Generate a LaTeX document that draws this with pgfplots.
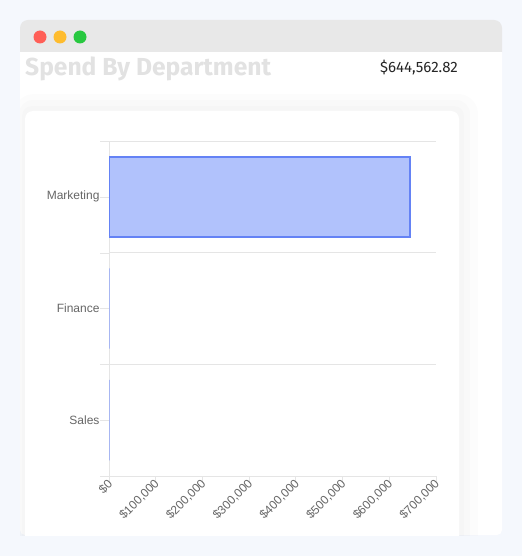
\documentclass[border=0pt]{standalone}
\usepackage{pgfplots}
\pgfplotsset{compat=1.18}
\usepackage{fontspec}
\setmainfont{Liberation Sans}
\newfontfamily\titlefont{Fira Sans}
\definecolor{pagebg}{HTML}{F5F8FD}
\definecolor{barbg}{HTML}{E8E8E8}
\definecolor{gridgray}{HTML}{E5E5E5}
\definecolor{labelgray}{HTML}{666666}
\definecolor{titlegray}{HTML}{E2E2E2}
\definecolor{barfill}{HTML}{B1C2FC}
\definecolor{barline}{HTML}{6482F5}
\definecolor{mred}{HTML}{FF5F57}
\definecolor{myellow}{HTML}{FEBC2E}
\definecolor{mgreen}{HTML}{28C840}

% departments: 0 = Sales, 1 = Finance, 2 = Marketing
\pgfplotstableread{
y value
2 644562.82
}\spendbig
\pgfplotstableread{
y value
0 0
1 0
}\spendzero

\begin{document}
\begin{tikzpicture}[x=1pt,y=1pt]
% page and window
\fill[pagebg] (0,0) rectangle (522,-556);
\fill[white, rounded corners=5pt] (20,-40) rectangle (502,-535);
\fill[barbg, rounded corners=8pt] (20,-20) rectangle (502,-60);
\fill[white] (20,-52) rectangle (502,-70);
\fill[mred] (40,-37) circle (6.5);
\fill[myellow] (60,-37) circle (6.5);
\fill[mgreen] (80,-37) circle (6.5);
% soft card shadow
\begin{scope}
\clip (20,-52) rectangle (502,-535);
\fill[black, opacity=0.012, rounded corners=20pt] (14,-94) rectangle (478,-560);
\fill[black, opacity=0.012, rounded corners=14pt] (19,-100) rectangle (470,-560);
\fill[black, opacity=0.012, rounded corners=10pt] (22,-106) rectangle (464,-560);
\fill[white, rounded corners=8pt] (25,-111) rectangle (459,-560);
\end{scope}
\node[anchor=base west, inner sep=0pt, text=titlegray, font=\titlefont\bfseries\fontsize{24.6}{28}\selectfont] at (25,-76) {Spend By Department};
\node[anchor=base east, inner sep=0pt, text=black!85, font=\titlefont\fontsize{15}{18}\selectfont] at (458,-73) {\$644,562.82};

\begin{axis}[
  at={(109pt,-476pt)}, anchor=south west,
  scale only axis, width=327pt, height=335pt,
  xbar, bar width=0.72, bar shift=0pt,
  xmin=0, xmax=700000, ymin=-0.5, ymax=2.5,
  axis lines=left, axis line style={-, draw=gridgray},
  tick align=outside,
  xtick={0,100000,...,700000},
  scaled x ticks=false,
  xticklabel={\$\pgfmathprintnumber{\tick}},
  /pgf/number format/.cd, fixed, 1000 sep={,}, assume math mode=true, /pgfplots/.cd,
  x tick label style={rotate=45, anchor=east, inner sep=1pt, xshift=1pt, yshift=-2pt, font=\fontsize{12}{14}\selectfont, text=labelgray},
  xtick style={draw=gridgray, thick},
  x tick style={/pgfplots/major tick length=7pt},
  ytick={-0.5,0.5,1.5,2.5}, yticklabels={},
  y tick style={/pgfplots/major tick length=9pt, draw=gridgray},
  ymajorgrids, grid style={draw=gridgray},
  extra y ticks={0,1,2},
  extra y tick labels={Sales,Finance,Marketing},
  extra y tick style={grid=none, major tick length=0pt,
    yticklabel style={font=\fontsize{12}{14}\selectfont, text=labelgray, anchor=east, xshift=-6pt}},
]
\addplot[fill=barfill, draw=barline, line width=1.8pt] table[x=value, y=y] {\spendbig};
\addplot[fill=barfill, draw=barline!75, line width=0.9pt] table[x=value, y=y] {\spendzero};
\end{axis}
\end{tikzpicture}
\end{document}
